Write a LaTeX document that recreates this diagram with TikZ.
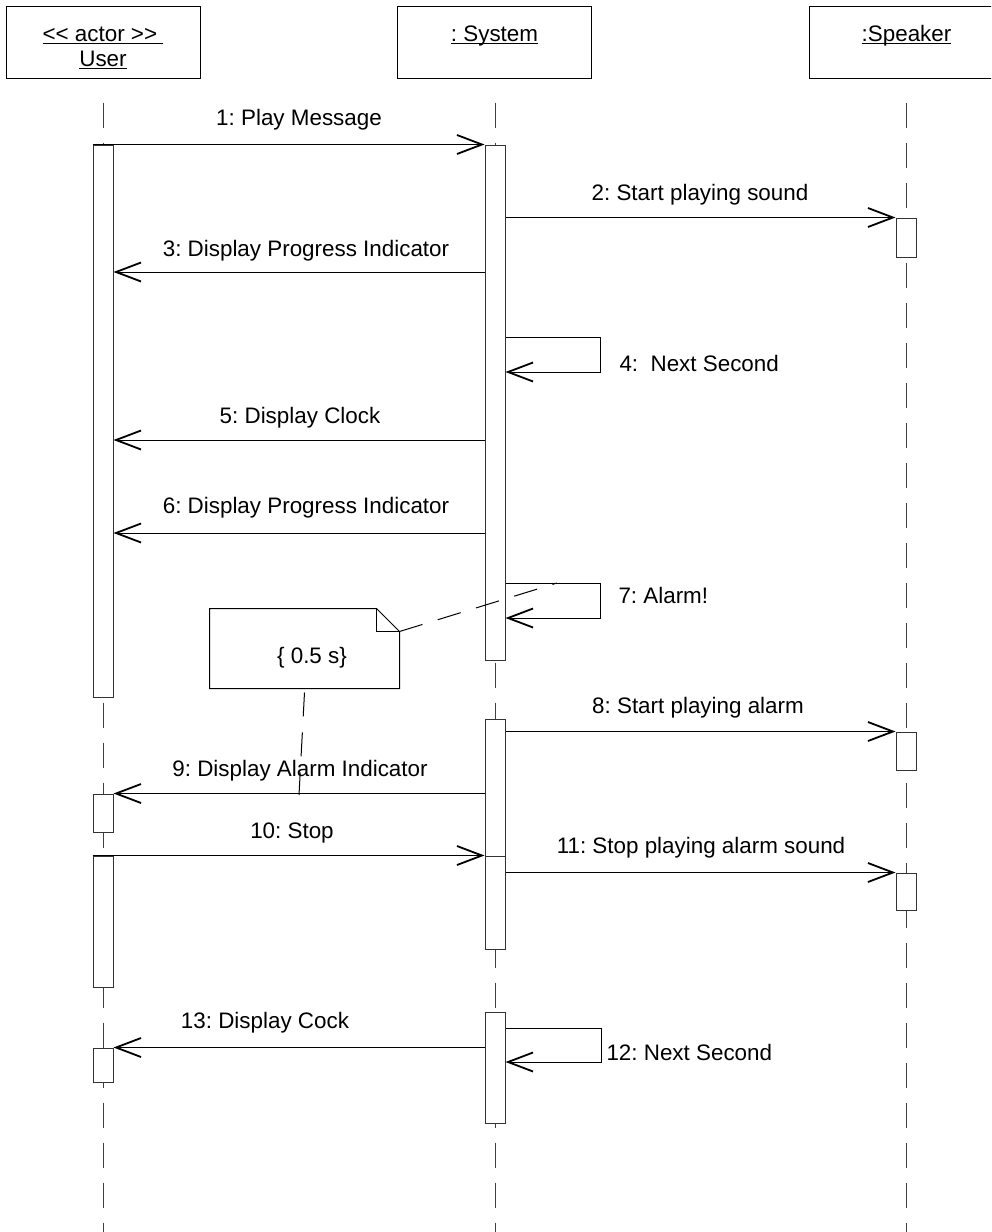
\documentclass[tikz,border=0pt]{standalone}
\usepackage{fontspec}
\setmainfont{Liberation Sans}
\usetikzlibrary{arrows.meta}
\frenchspacing

\tikzset{
    obj/.style={draw, minimum width=97pt, minimum height=36pt, inner sep=0pt},
    bar/.style={draw=black!80, fill=white, minimum width=10pt, inner sep=0pt},
    life/.style={draw=black!75, dash pattern=on 12.5pt off 7.5pt},
    msg/.style={-{Straight Barb[length=12.5pt,width=9.5pt,line width=0.9pt]}},
    lbl/.style={anchor=base, inner sep=0pt, font=\fontsize{11.2}{13}\selectfont},
    noteline/.style={dash pattern=on 12pt off 8pt}
}

\begin{document}
\begin{tikzpicture}[x=0.5pt, y=-0.5pt, line width=0.5pt]
    \clip (0,0) rectangle (991,1232);

    % objects
    \node[obj] (user) at (103,42) {};
    \node[obj] (sys) at (494.5,42) {};
    \node[obj] (spk) at (906.5,42) {};
    \node[lbl] (userStereo) at (103,41) {\underline{\smash{<\kern0pt< actor >\kern0pt>\ }}};
    \node[lbl] (userName) at (103,66) {\underline{\smash{User}}};
    \node[lbl] (sysName) at (494.5,41) {\underline{\smash{: System}}};
    \node[lbl] (spkName) at (906.5,41) {\underline{\smash{:Speaker}}};

    % lifelines
    \coordinate (userEnd) at (103,1232);
    \coordinate (sysEnd) at (495,1232);
    \coordinate (spkEnd) at (906,1232);
    \draw[life] ([yshift=-12pt]user.south) -- (userEnd);
    \draw[life] ([yshift=-12pt]sys.south -| sysEnd) -- (sysEnd);
    \draw[life] ([yshift=-12pt]spk.south -| spkEnd) -- (spkEnd);

    % activations
    \node[bar, minimum height=276pt] (uA) at (103,421) {};
    \node[bar, minimum height=19pt] (uB) at (103,813) {};
    \node[bar, minimum height=65.5pt] (uC) at (103,921.5) {};
    \node[bar, minimum height=17pt] (uD) at (103,1065) {};
    \node[bar, minimum height=257.5pt] (sA) at (495,402.5) {};
    \node[bar, minimum height=68.5pt] (sB) at (495,787.5) {};
    \node[bar, minimum height=46.5pt] (sB2) at (495,902.5) {};
    \node[bar, minimum height=55.5pt] (sC) at (495,1067.5) {};
    \node[bar, minimum height=19.5pt] (kA) at (906,237.5) {};
    \node[bar, minimum height=19pt] (kB) at (906,751) {};
    \node[bar, minimum height=18.5pt] (kC) at (906,891.5) {};

    % message levels
    \coordinate (m3) at (0,272);
    \coordinate (m5) at (0,440);
    \coordinate (m6) at (0,533);
    \coordinate (m4a) at (600,337);
    \coordinate (m4b) at (600,372);
    \coordinate (m7a) at (600,583);
    \coordinate (m7b) at (600,618);
    \coordinate (m12a) at (601,1028);
    \coordinate (m12b) at (601,1062);

    % messages
    \draw[msg] (uA.north west) -- (sA.north west);
    \draw[msg] (sA.east |- kA.north) -- (kA.north west);
    \draw[msg] (sA.west |- m3) -- (uA.east |- m3);
    \draw[msg] (sA.east |- m4a) -- (m4a) -- (m4b) -- (sA.east |- m4b);
    \draw[msg] (sA.west |- m5) -- (uA.east |- m5);
    \draw[msg] (sA.west |- m6) -- (uA.east |- m6);
    \draw[msg] (sA.east |- m7a) -- (m7a) -- (m7b) -- (sA.east |- m7b);
    \draw[msg] (sB.east |- kB.north) -- (kB.north west);
    \draw[msg] (sB.west |- uB.north) -- (uB.north east);
    \draw[msg] (uC.north west) -- (sB2.north west);
    \draw[msg] (sB2.east |- kC.north) -- (kC.north west);
    \draw[msg] (sC.east |- m12a) -- (m12a) -- (m12b) -- (sC.east |- m12b);
    \draw[msg] (sC.west |- uD.north) -- (uD.north east);

    \node[lbl] (l1) at (299,125) {1: Play Message};
    \node[lbl] (l2) at (700,200) {2: Start playing sound};
    \node[lbl] (l3) at (306,256) {3: Display Progress Indicator};
    \node[lbl, anchor=base west] (l4) at (619,371) {4:\ \ Next Second};
    \node[lbl] (l5) at (300,423) {5: Display Clock};
    \node[lbl] (l6) at (306,513) {6: Display Progress Indicator};
    \node[lbl, anchor=base west] (l7) at (618,603) {7: Alarm!};
    \node[lbl] (l8) at (698,713) {8: Start playing alarm};
    \node[lbl] (l9) at (300,776) {9: Display Alarm Indicator};
    \node[lbl] (l10) at (292,838) {10: Stop};
    \node[lbl] (l11) at (701,853) {11: Stop playing alarm sound};
    \node[lbl, anchor=base west] (l12) at (606,1060) {12: Next Second};
    \node[lbl] (l13) at (265,1028) {13: Display Cock};

    % note
    \node[minimum width=94.5pt, minimum height=39.5pt, inner sep=0pt] (note) at (304.5,648.5) {};
    \draw[fill=white] (note.north west) -- ([xshift=-11.5pt]note.north east)
        -- ([yshift=-11.5pt]note.north east) -- (note.south east) -- (note.south west) -- cycle;
    \draw ([xshift=-11.5pt]note.north east) |- ([yshift=-11.5pt]note.north east);
    \node[lbl] (noteTxt) at (312,663) {\{ 0.5 s\}};
    \coordinate (c7) at (557,583);
    \coordinate (c9) at (299,795);
    \draw[noteline] ([yshift=-11.5pt]note.north east) -- (c7);
    \draw[noteline] ([yshift=-2pt]note.south) -- (c9);
\end{tikzpicture}
\end{document}
